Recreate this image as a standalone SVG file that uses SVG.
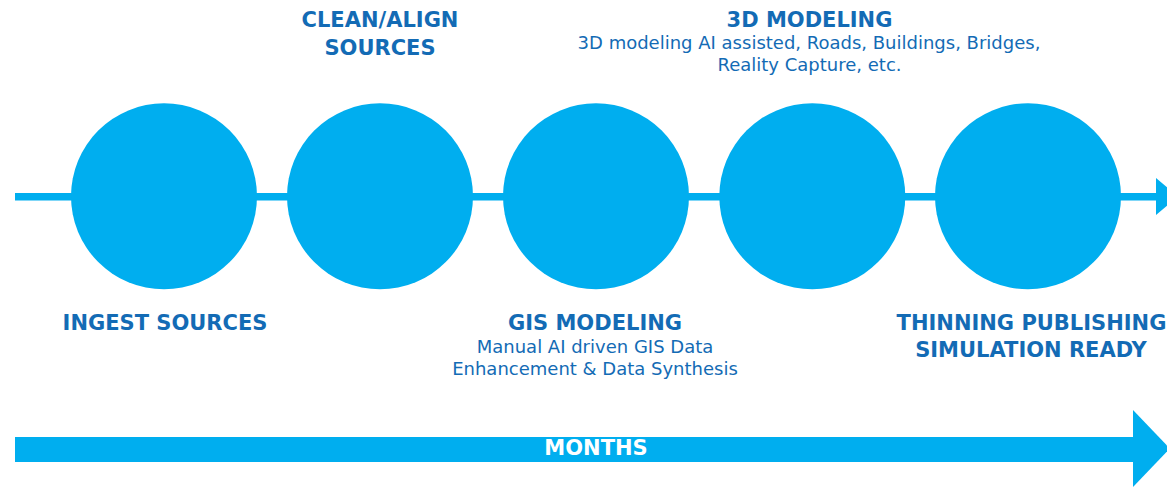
<svg xmlns="http://www.w3.org/2000/svg" width="1167" height="487" viewBox="0 0 1167 487">
<style>
.c{fill:#00aeef}
.t{font-family:"DejaVu Sans",sans-serif;font-weight:bold;font-size:21px;fill:#136bb5;text-anchor:middle}
.s{font-family:"DejaVu Sans",sans-serif;font-size:18px;fill:#136bb5;text-anchor:middle}
.m{font-family:"DejaVu Sans",sans-serif;font-weight:bold;font-size:21px;fill:#ffffff;text-anchor:middle}
</style>
<rect width="1167" height="487" fill="#ffffff"/>
<g id="connectors">
<rect class="c" x="15" y="193" width="1143" height="7.5"/>
<polygon class="c" points="1156,178 1178,196.5 1156,215"/>
</g>
<g id="node-ingest">
<circle class="c" cx="164" cy="196.3" r="93"/>
<text class="t" x="165" y="329.5">INGEST SOURCES</text>
</g>
<g id="node-clean">
<circle class="c" cx="380" cy="196.3" r="93"/>
<text class="t" x="380" y="27">CLEAN/ALIGN</text>
<text class="t" x="380" y="54.5">SOURCES</text>
</g>
<g id="node-gis">
<circle class="c" cx="596" cy="196.3" r="93"/>
<text class="t" x="595" y="329.5">GIS MODELING</text>
<text class="s" x="595" y="353">Manual AI driven GIS Data</text>
<text class="s" x="595" y="374.5">Enhancement &amp; Data Synthesis</text>
</g>
<g id="node-3d">
<circle class="c" cx="812.3" cy="196.3" r="93"/>
<text class="t" x="809.5" y="27">3D MODELING</text>
<text class="s" x="809" y="49.3">3D modeling AI assisted, Roads, Buildings, Bridges,</text>
<text class="s" x="809.5" y="70.8">Reality Capture, etc.</text>
</g>
<g id="node-thinning">
<circle class="c" cx="1028" cy="196.3" r="93"/>
<text class="t" x="1031.5" y="329.5">THINNING PUBLISHING</text>
<text class="t" x="1031" y="357">SIMULATION READY</text>
</g>
<g id="months">
<rect class="c" x="15" y="437" width="1120" height="25"/>
<polygon class="c" points="1133,410 1170,448.5 1133,487"/>
<text class="m" x="596" y="454.5">MONTHS</text>
</g>
</svg>
